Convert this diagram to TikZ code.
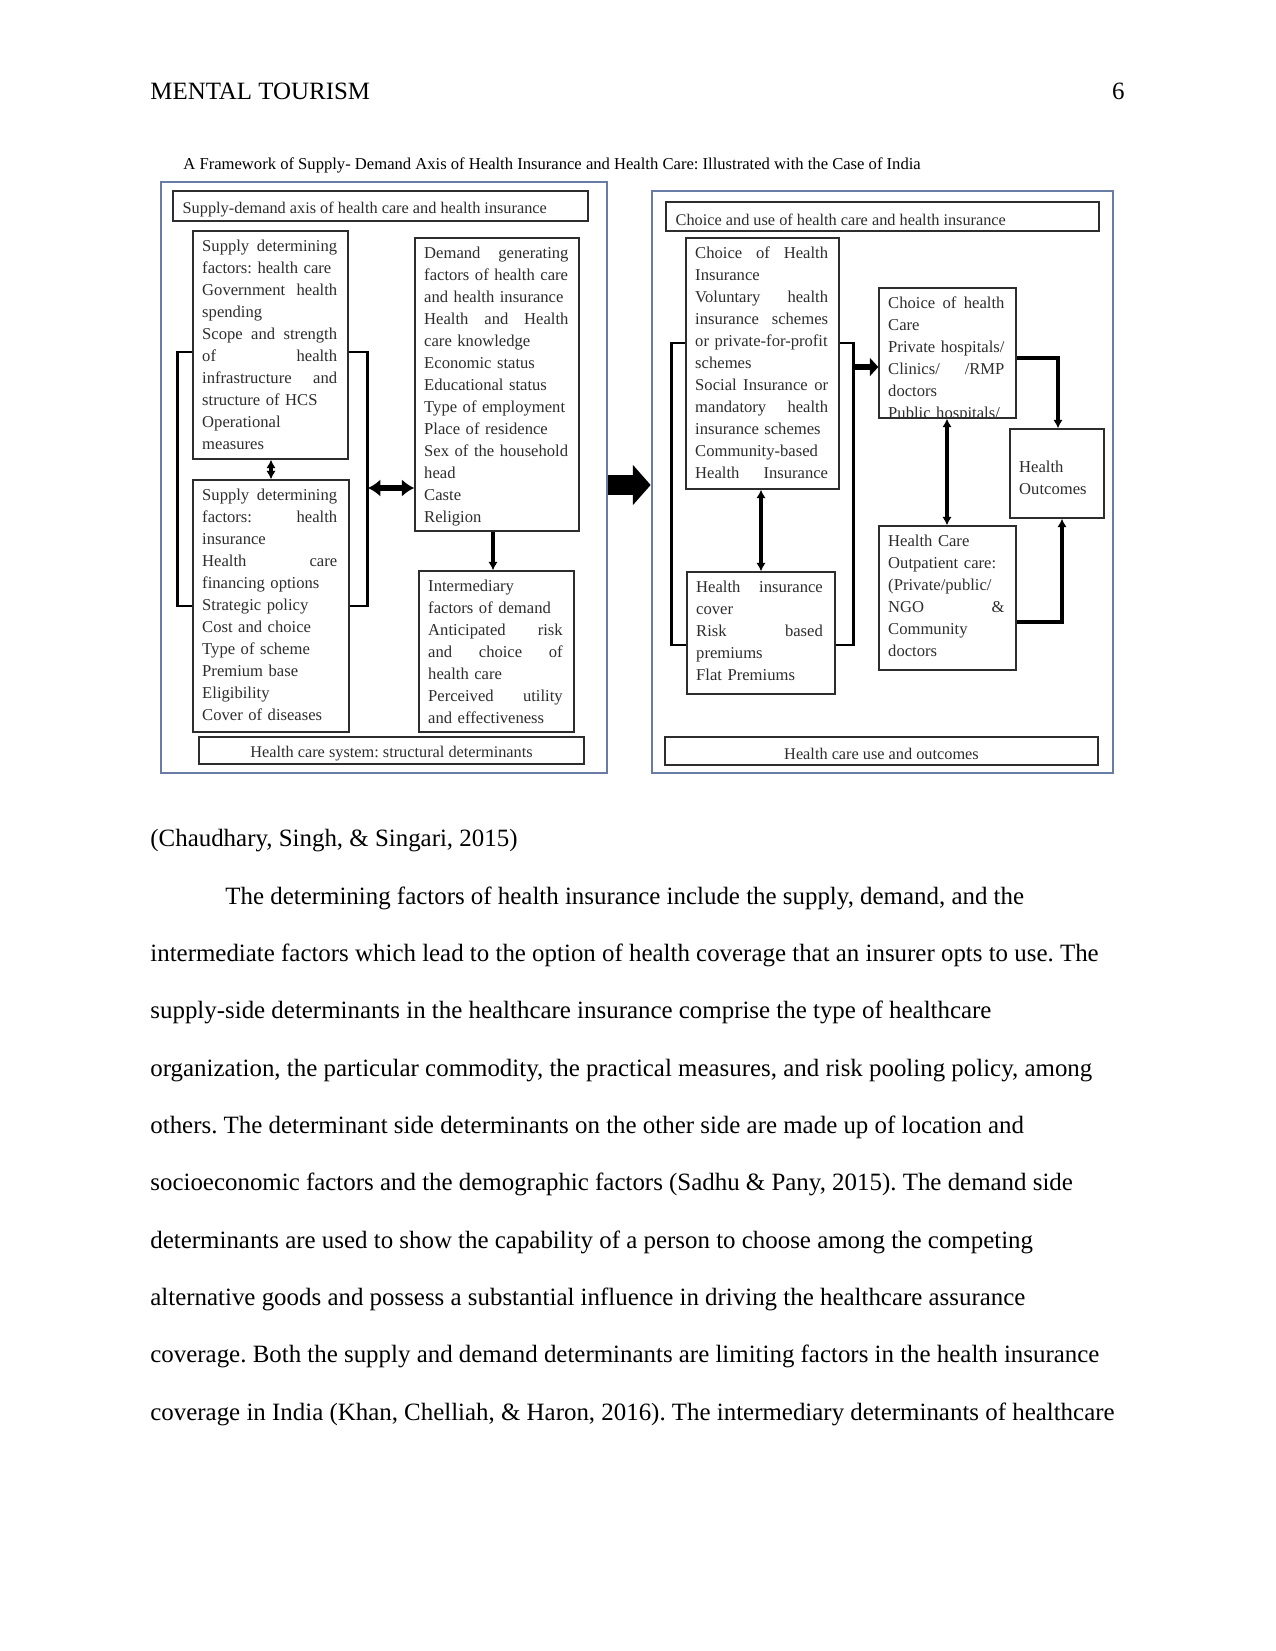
\documentclass[tikz,border=0pt]{standalone}
\usepackage{fontspec}
\setmainfont{Liberation Serif}
\usetikzlibrary{arrows.meta, positioning, fit}
\frenchspacing

\definecolor{panelblue}{RGB}{104,124,166}
\definecolor{ink}{RGB}{45,45,45}
\newcommand{\jl}[1]{\leavevmode\hbox to \hsize{\spaceskip=0.25em plus 1fil\relax #1}}

\begin{document}
\begin{tikzpicture}[
    x=0.169333mm, y=-0.169333mm,
    panel/.style={draw=panelblue, line width=1.3pt, inner sep=0pt},
    box/.style={draw=ink, line width=0.7pt, inner sep=0pt},
    boxtext/.style={anchor=north west, inner xsep=4.6pt, inner ysep=4.3pt, align=left, text=ink, font=\fontsize{8}{10.6}\selectfont},
    bartext/.style={inner sep=0pt, yshift=-1.5pt, text=ink, font=\fontsize{7.85}{10}\selectfont},
    link/.style={line width=1.5pt, -{Latex[length=4pt,width=4.5pt]}},
    twolink/.style={line width=1.5pt, {Latex[length=4pt,width=4.5pt]}-{Latex[length=4pt,width=4.5pt]}},
    bracket/.style={line width=1.4pt},
    body/.style={anchor=base west, inner sep=0pt, font=\fontsize{12}{14}\selectfont}
]
\useasboundingbox[fill=white] (0,0) rectangle (1275,1651);

\node[body] (runhead) at (150,99) {MENTAL TOURISM};
\node[body, anchor=base east] (pageno) at (1125,99) {6};
\node[anchor=base west, inner sep=0pt, font=\fontsize{8}{10}\selectfont] (title) at (183,169) {A Framework of Supply- Demand Axis of Health Insurance and Health Care: Illustrated with the Case of India};

% left panel
\node[panel, fit={(161,182) (607,773)}] (outerL) {};
\node[box, fit={(173,191) (588,221)}] (hdrL) {};
\node[bartext, anchor=west, right=4.8pt of hdrL.west] {Supply-demand axis of health care and health insurance};
\node[box, fit={(193,231) (348,459)}] (shc) {};
\node[boxtext, text width=65pt] at (shc.north west) {\jl{Supply determining}\\factors: health care\\\jl{Government health}\\spending\\\jl{Scope and strength}\\\jl{of health}\\\jl{infrastructure and}\\structure of HCS\\Operational\\measures};
\node[box, fit={(193,480) (349,732)}] (shi) {};
\node[boxtext, text width=65pt] at (shi.north west) {\jl{Supply determining}\\\jl{factors: health}\\insurance\\\jl{Health care}\\financing options\\Strategic policy\\Cost and choice\\Type of scheme\\Premium base\\Eligibility\\Cover of diseases};
\node[box, fit={(415,238) (579,531)}] (dem) {};
\node[boxtext, text width=69.5pt] at (dem.north west) {\jl{Demand generating}\\factors of health care\\and health insurance\\\jl{Health and Health}\\care knowledge\\Economic status\\Educational status\\Type of employment\\Place of residence\\Sex of the household\\head\\Caste\\Religion};
\node[box, fit={(419,571) (574,732)}] (imd) {};
\node[boxtext, text width=64.8pt] at (imd.north west) {Intermediary\\factors of demand\\\jl{Anticipated risk}\\\jl{and choice of}\\health care\\\jl{Perceived utility}\\and effectiveness};
\node[box, fit={(199,737) (584,764)}] (botL) {};
\node[bartext] at (botL.center) {Health care system: structural determinants};

\draw[twolink] (shc.south -| 271,0) -- (shi.north -| 271,0);
\draw[bracket] (shc.west |- 0,352) -- ++(-15,0) |- (shi.west |- 0,606);
\draw[bracket] (shc.east |- 0,352) -- ++(19,0) |- (shi.east |- 0,606);
\coordinate (jL) at (368,488);
\draw[line width=3.3pt, {Latex[length=6pt,width=8.5pt]}-{Latex[length=6pt,width=8.5pt]}] (jL) -- (dem.west |- jL);
\draw[link] (dem.south -| 493,0) -- (imd.north -| 493,0);

% right panel
\node[panel, fit={(652,191) (1113,773)}] (outerR) {};
\node[box, fit={(666,202) (1099,231)}] (hdrR) {};
\node[bartext, anchor=west, right=4.8pt of hdrR.west] {Choice and use of health care and health insurance};
\node[box, fit={(686,238) (839,489)}] (chi) {};
\node[boxtext, text width=64pt] at (chi.north west) {\jl{Choice of Health}\\Insurance\\\jl{Voluntary health}\\\jl{insurance schemes}\\\mbox{or private-for-profit}\\schemes\\\jl{Social Insurance or}\\\jl{mandatory health}\\insurance schemes\\Community-based\\\jl{Health Insurance}};
\node[box, fit={(687,572) (835,694)}] (hic) {};
\node[boxtext, text width=61pt] at (hic.north west) {\jl{Health insurance}\\cover\\\jl{Risk based}\\premiums\\Flat Premiums};
\node[box, fit={(879,288) (1016,418)}] (chc) {};
\begin{scope}
\clip (chc.north west) rectangle (chc.south east);
\node[boxtext, text width=56pt] at (chc.north west) {\jl{Choice of health}\\Care\\\mbox{Private hospitals/}\\\jl{Clinics/ /RMP}\\doctors\\\mbox{Public hospitals/}};
\end{scope}
\node[box, fit={(1010,429) (1104,518)}] (ho) {};
\node[boxtext, anchor=west, inner ysep=0pt, yshift=-2.2pt] at (ho.west) {Health\\Outcomes};
\node[box, fit={(879,526) (1016,670)}] (hcr) {};
\node[boxtext, text width=56pt] at (hcr.north west) {Health Care\\Outpatient care:\\(Private/public/\\\jl{NGO \&}\\Community\\doctors};
\node[box, fit={(665,737) (1098,765)}] (botR) {};
\node[bartext] at (botR.center) {Health care use and outcomes};

\draw[bracket] (chi.west |- 0,343) -- ++(-14,0) |- (hic.west |- 0,645);
\draw[bracket] (chi.east |- 0,343) -- ++(14,0) |- (hic.east |- 0,645);
\coordinate (jR) at (853,367);
\draw[line width=3.3pt, -{Triangle[length=4pt,width=8.5pt]}] (jR) -- (chc.west |- jR);
\draw[twolink] (chi.south -| 761,0) -- (hic.north -| 761,0);
\draw[twolink] (chc.south -| 947,0) -- (hcr.north -| 947,0);
\draw[link] (chc.east |- 0,358) -| (ho.north -| 1058,0);
\draw[link] (hcr.east |- 0,622) -| (ho.south -| 1062,0);

\draw[line width=9.6pt, -{Triangle[length=8.6pt,width=19pt]}] (outerL.east |- 0,485) -- (outerR.west |- 0,485);

% text below the figure
\node[body] (cite) at (150,846) {(Chaudhary, Singh, \& Singari, 2015)};
\node[body] (p1) at (225,904) {The determining factors of health insurance include the supply, demand, and the};
\node[body] (p2) at (150,961.3) {intermediate factors which lead to the option of health coverage that an insurer opts to use. The};
\node[body] (p3) at (150,1018.7) {supply-side determinants in the healthcare insurance comprise the type of healthcare};
\node[body] (p4) at (150,1076) {organization, the particular commodity, the practical measures, and risk pooling policy, among};
\node[body] (p5) at (150,1133.3) {others. The determinant side determinants on the other side are made up of location and};
\node[body] (p6) at (150,1190.7) {socioeconomic factors and the demographic factors (Sadhu \& Pany, 2015). The demand side};
\node[body] (p7) at (150,1248) {determinants are used to show the capability of a person to choose among the competing};
\node[body] (p8) at (150,1305.3) {alternative goods and possess a substantial influence in driving the healthcare assurance};
\node[body] (p9) at (150,1362.7) {coverage. Both the supply and demand determinants are limiting factors in the health insurance};
\node[body] (p10) at (150,1420) {coverage in India (Khan, Chelliah, \& Haron, 2016). The intermediary determinants of healthcare};
\end{tikzpicture}
\end{document}
